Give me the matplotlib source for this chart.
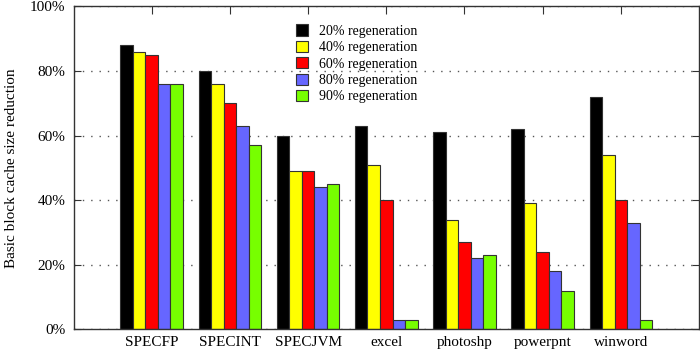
import numpy as np
import matplotlib
matplotlib.use('Agg')
import matplotlib.pyplot as plt
from matplotlib.patches import Patch
from matplotlib.ticker import FuncFormatter

# Data
categories = ['SPECFP', 'SPECINT', 'SPECJVM', 'excel', 'photoshp', 'powerpnt', 'winword']
series_labels = ['20% regeneration', '40% regeneration', '60% regeneration',
                 '80% regeneration', '90% regeneration']
regen_20 = [88, 80, 60, 63, 61, 62, 72]
regen_40 = [86, 76, 49, 51, 34, 39, 54]
regen_60 = [85, 70, 49, 40, 27, 24, 40]
regen_80 = [76, 63, 44, 3, 22, 18, 33]
regen_90 = [76, 57, 45, 3, 23, 12, 3]
series = [regen_20, regen_40, regen_60, regen_80, regen_90]
colors = ['#000000', '#ffff00', '#ff0000', '#6666ff', '#77ff00']

plt.rcParams['font.family'] = ['Liberation Serif', 'DejaVu Serif']

fig = plt.figure(figsize=(7.0, 3.52), dpi=100)
ax = fig.add_axes([0.105, 0.0645, 0.8936, 0.9173])

x = np.arange(1, len(categories) + 1)
width = 0.16
for i, (vals, col) in enumerate(zip(series, colors)):
    ax.bar(x + (i - 2) * width, vals, width, color=col,
           edgecolor='#333333', linewidth=0.8, zorder=2)

ax.set_xlim(0, 8)
ax.set_ylim(0, 100)
ax.set_xticks(x)
ax.set_xticklabels(categories, fontsize=11)
ax.set_yticks([0, 20, 40, 60, 80, 100])
ax.yaxis.set_major_formatter(FuncFormatter(lambda v, p: f'{int(v)}%'))
ax.tick_params(axis='y', labelsize=11, direction='in', length=5,
               pad=6, left=True, right=True, color='#333333')
ax.tick_params(axis='x', labelsize=11, direction='in', length=6,
               pad=5, top=True, bottom=True, color='#333333')

ax.set_axisbelow(True)
ax.yaxis.grid(True, linestyle=(0, (1, 5)), color='#555555', linewidth=1)

for sp in ax.spines.values():
    sp.set_color('#333333')
    sp.set_linewidth(1)

ax.set_ylabel('Basic block cache size reduction', fontsize=11)
ax.yaxis.set_label_coords(-0.089, 0.5)

handles = [Patch(facecolor=c, edgecolor='#333333', linewidth=0.8) for c in colors]
ax.legend(handles, series_labels, loc='upper left', bbox_to_anchor=(0.356, 0.944),
          frameon=False, fontsize=10, borderpad=0, borderaxespad=0,
          handlelength=0.85, handleheight=0.85, handletextpad=0.8,
          labelspacing=0.22)

fig.savefig('out.png', dpi=100)
